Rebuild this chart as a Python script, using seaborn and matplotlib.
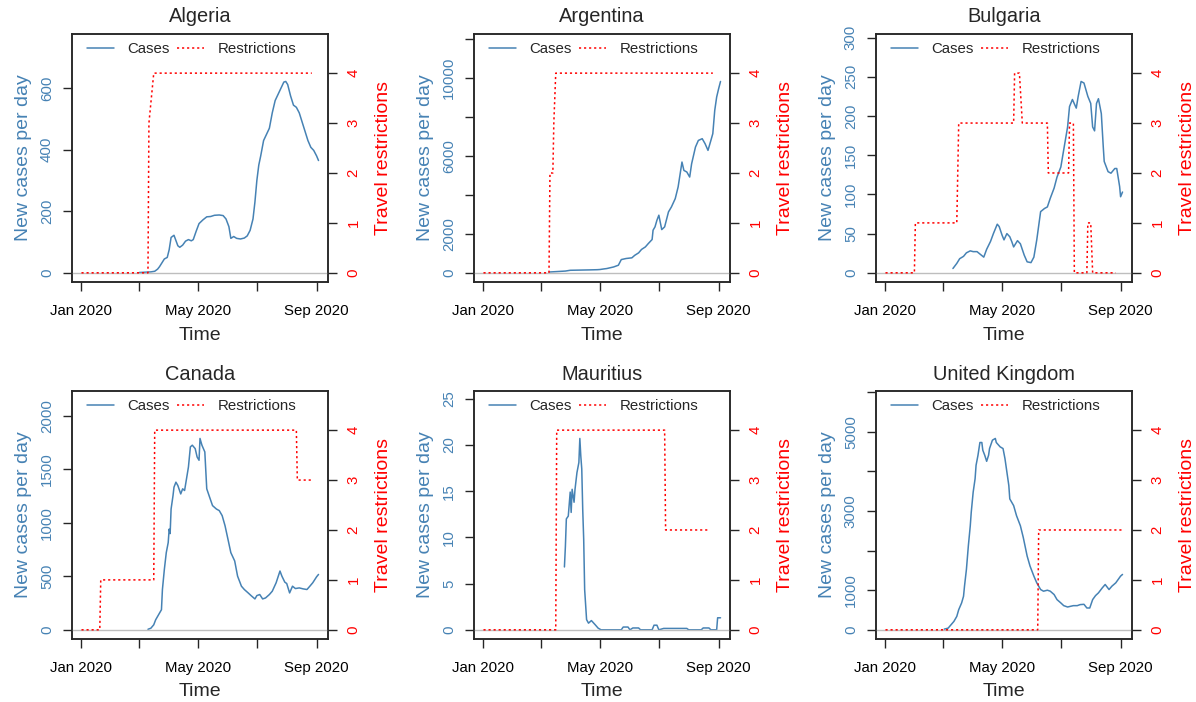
import numpy as np
import pandas as pd
import matplotlib
matplotlib.use("Agg")
import matplotlib.pyplot as plt
import seaborn as sns
from matplotlib.lines import Line2D

sns.set_style("ticks")
plt.rcParams["font.family"] = ["Liberation Sans", "DejaVu Sans"]

# ---------------- data ----------------
countries = ["Algeria", "Argentina", "Bulgaria", "Canada", "Mauritius", "United Kingdom"]

algeria_dates = ["2020-03-01", "2020-03-07", "2020-03-13", "2020-03-17", "2020-03-20", "2020-03-22",
                 "2020-03-25", "2020-03-27", "2020-03-30", "2020-04-01", "2020-04-03", "2020-04-06",
                 "2020-04-08", "2020-04-10", "2020-04-12", "2020-04-15", "2020-04-18", "2020-04-21",
                 "2020-04-24", "2020-04-26", "2020-04-29", "2020-05-02", "2020-05-06", "2020-05-10",
                 "2020-05-14", "2020-05-18", "2020-05-23", "2020-05-27", "2020-05-30", "2020-06-02",
                 "2020-06-04", "2020-06-07", "2020-06-10", "2020-06-14", "2020-06-18", "2020-06-21",
                 "2020-06-24", "2020-06-27", "2020-06-29", "2020-07-01", "2020-07-03", "2020-07-05",
                 "2020-07-08", "2020-07-11", "2020-07-14", "2020-07-17", "2020-07-20", "2020-07-23",
                 "2020-07-26", "2020-07-29", "2020-07-31", "2020-08-02", "2020-08-05", "2020-08-08",
                 "2020-08-11", "2020-08-14", "2020-08-17", "2020-08-20", "2020-08-23", "2020-08-26",
                 "2020-08-29", "2020-09-01", "2020-09-03"]
algeria_cases = [1, 2, 3, 5, 12, 20, 35, 45, 50, 75, 115, 122, 105, 88, 83, 90, 103, 108, 104, 108,
                 135, 160, 172, 182, 183, 187, 188, 186, 175, 150, 112, 118, 112, 110, 113, 120,
                 138, 175, 230, 300, 350, 380, 430, 450, 470, 520, 560, 580, 600, 620, 622, 612,
                 575, 545, 538, 520, 490, 460, 430, 408, 398, 380, 365]
algeria_restr_dates = ["2020-01-01", "2020-03-10", "2020-03-11", "2020-03-16", "2020-08-27"]
algeria_restr_levels = [0, 0, 3, 4, 4]

argentina_dates = ["2020-03-09", "2020-03-16", "2020-03-26", "2020-03-31", "2020-04-10", "2020-04-20",
                   "2020-04-28", "2020-05-01", "2020-05-05", "2020-05-08", "2020-05-15", "2020-05-20",
                   "2020-05-23", "2020-05-28", "2020-06-03", "2020-06-06", "2020-06-10", "2020-06-13",
                   "2020-06-17", "2020-06-20", "2020-06-24", "2020-06-25", "2020-06-27", "2020-06-29",
                   "2020-07-01", "2020-07-04", "2020-07-07", "2020-07-11", "2020-07-14", "2020-07-18",
                   "2020-07-21", "2020-07-25", "2020-07-27", "2020-07-30", "2020-08-02", "2020-08-04",
                   "2020-08-08", "2020-08-11", "2020-08-15", "2020-08-18", "2020-08-21", "2020-08-24",
                   "2020-08-26", "2020-08-28", "2020-08-30", "2020-09-01", "2020-09-03"]
argentina_cases = [40, 60, 90, 130, 140, 150, 160, 170, 200, 220, 300, 390, 680, 735, 770, 900,
                   1025, 1200, 1330, 1500, 1710, 2190, 2360, 2700, 2960, 2220, 2360, 3130, 3380,
                   3810, 4410, 5690, 5260, 5180, 4920, 5600, 6460, 6800, 6890, 6630, 6290, 6800,
                   7150, 8340, 9030, 9450, 9830]
argentina_restr_dates = ["2020-01-01", "2020-03-09", "2020-03-10", "2020-03-13", "2020-03-14",
                         "2020-03-16", "2020-08-26"]
argentina_restr_levels = [0, 0, 2, 2, 3, 4, 4]

bulgaria_dates = ["2020-03-11", "2020-03-15", "2020-03-18", "2020-03-22", "2020-03-25", "2020-03-29",
                  "2020-04-01", "2020-04-05", "2020-04-08", "2020-04-12", "2020-04-15", "2020-04-19",
                  "2020-04-22", "2020-04-26", "2020-04-28", "2020-05-01", "2020-05-03", "2020-05-06",
                  "2020-05-09", "2020-05-11", "2020-05-13", "2020-05-17", "2020-05-20", "2020-05-24",
                  "2020-05-27", "2020-05-31", "2020-06-03", "2020-06-06", "2020-06-10", "2020-06-14",
                  "2020-06-17", "2020-06-20", "2020-06-24", "2020-06-27", "2020-07-01", "2020-07-04",
                  "2020-07-08", "2020-07-10", "2020-07-13", "2020-07-17", "2020-07-19", "2020-07-22",
                  "2020-07-25", "2020-07-29", "2020-08-01", "2020-08-03", "2020-08-05", "2020-08-07",
                  "2020-08-09", "2020-08-12", "2020-08-14", "2020-08-15", "2020-08-19", "2020-08-22",
                  "2020-08-26", "2020-08-28", "2020-08-31", "2020-09-01", "2020-09-03"]
bulgaria_cases = [5.5, 12, 18, 21, 25.5, 28, 27, 27, 24, 20, 30, 40, 50, 62, 59, 48, 42, 50, 46,
                  40, 33, 41, 37, 22.5, 14, 13, 20, 42, 78, 82, 84, 95, 108, 122, 135, 157, 186,
                  212, 221, 210, 225, 244, 242, 225, 216, 186, 181, 216, 222, 203, 161, 142, 129,
                  127, 133, 133, 110, 97, 103]
bulgaria_restr_dates = ["2020-01-01", "2020-01-31", "2020-02-01", "2020-03-15", "2020-03-17",
                        "2020-05-13", "2020-05-14", "2020-05-19", "2020-05-22", "2020-06-17",
                        "2020-06-18", "2020-07-09", "2020-07-10", "2020-07-14", "2020-07-15",
                        "2020-07-28", "2020-07-29", "2020-08-01", "2020-08-03", "2020-08-27"]
bulgaria_restr_levels = [0, 0, 1, 1, 3, 3, 4, 4, 3, 3, 2, 2, 3, 3, 0, 0, 1, 1, 0, 0]

canada_dates = ["2020-03-10", "2020-03-13", "2020-03-16", "2020-03-18", "2020-03-21", "2020-03-24",
                "2020-03-25", "2020-03-27", "2020-03-29", "2020-03-31", "2020-04-01", "2020-04-02",
                "2020-04-03", "2020-04-05", "2020-04-06", "2020-04-08", "2020-04-10", "2020-04-13",
                "2020-04-15", "2020-04-17", "2020-04-19", "2020-04-21", "2020-04-23", "2020-04-25",
                "2020-04-28", "2020-04-30", "2020-05-02", "2020-05-03", "2020-05-05", "2020-05-08",
                "2020-05-10", "2020-05-13", "2020-05-16", "2020-05-20", "2020-05-23", "2020-05-26",
                "2020-05-29", "2020-06-01", "2020-06-04", "2020-06-08", "2020-06-11", "2020-06-15",
                "2020-06-18", "2020-06-22", "2020-06-25", "2020-06-29", "2020-07-01", "2020-07-04",
                "2020-07-07", "2020-07-10", "2020-07-14", "2020-07-17", "2020-07-21", "2020-07-25",
                "2020-07-27", "2020-07-30", "2020-08-01", "2020-08-04", "2020-08-07", "2020-08-10",
                "2020-08-14", "2020-08-18", "2020-08-22", "2020-08-25", "2020-08-28", "2020-09-01",
                "2020-09-03"]
canada_cases = [5, 15, 47, 94, 141, 188, 377, 565, 722, 816, 942, 900, 1130, 1256, 1334, 1381,
                1350, 1271, 1319, 1303, 1413, 1523, 1711, 1727, 1695, 1617, 1586, 1790, 1727,
                1664, 1319, 1240, 1162, 1130, 1115, 1068, 973, 848, 722, 644, 502, 408, 377, 345,
                320, 289, 320, 330, 289, 298, 330, 361, 440, 550, 502, 446, 433, 345, 408, 386,
                392, 383, 377, 408, 440, 496, 518]
canada_restr_dates = ["2020-01-01", "2020-01-20", "2020-01-21", "2020-03-16", "2020-03-17",
                      "2020-08-11", "2020-08-12", "2020-08-26"]
canada_restr_levels = [0, 0, 1, 1, 4, 4, 3, 3]

mauritius_dates = ["2020-03-25", "2020-03-26", "2020-03-27", "2020-03-29", "2020-03-30", "2020-03-31",
                   "2020-04-01", "2020-04-02", "2020-04-04", "2020-04-05", "2020-04-07", "2020-04-09",
                   "2020-04-10", "2020-04-11", "2020-04-12", "2020-04-13", "2020-04-14", "2020-04-15",
                   "2020-04-17", "2020-04-19", "2020-04-22", "2020-04-26", "2020-04-29", "2020-05-02",
                   "2020-05-23", "2020-05-25", "2020-05-30", "2020-06-01", "2020-06-04", "2020-06-10",
                   "2020-06-12", "2020-06-24", "2020-06-26", "2020-06-29", "2020-07-01", "2020-07-06",
                   "2020-07-30", "2020-08-01", "2020-08-14", "2020-08-16", "2020-08-22", "2020-08-24",
                   "2020-08-30", "2020-08-31", "2020-09-03"]
mauritius_cases = [6.8, 9, 12, 12.3, 13.6, 14.9, 12.7, 15.2, 13.8, 15.2, 17, 18.1, 20.7, 18.8,
                   17.4, 13, 9.8, 4.35, 1.1, 0.72, 1.0, 0.54, 0.18, 0, 0, 0.3, 0.3, 0, 0.2, 0.2,
                   0, 0, 0.5, 0.5, 0, 0.15, 0.15, 0, 0, 0.2, 0.2, 0, 0, 1.3, 1.3]
mauritius_restr_dates = ["2020-01-01", "2020-03-16", "2020-03-17", "2020-07-07", "2020-07-08",
                         "2020-08-22"]
mauritius_restr_levels = [0, 0, 4, 4, 2, 2]

uk_dates = ["2020-03-02", "2020-03-06", "2020-03-09", "2020-03-12", "2020-03-15", "2020-03-17",
            "2020-03-20", "2020-03-22", "2020-03-23", "2020-03-25", "2020-03-27", "2020-03-29",
            "2020-03-30", "2020-04-01", "2020-04-03", "2020-04-04", "2020-04-06", "2020-04-08",
            "2020-04-10", "2020-04-11", "2020-04-13", "2020-04-15", "2020-04-17", "2020-04-18",
            "2020-04-21", "2020-04-24", "2020-04-25", "2020-04-29", "2020-05-02", "2020-05-04",
            "2020-05-06", "2020-05-08", "2020-05-09", "2020-05-13", "2020-05-16", "2020-05-20",
            "2020-05-23", "2020-05-27", "2020-05-30", "2020-06-03", "2020-06-06", "2020-06-10",
            "2020-06-13", "2020-06-17", "2020-06-20", "2020-06-24", "2020-06-27", "2020-07-01",
            "2020-07-04", "2020-07-08", "2020-07-11", "2020-07-14", "2020-07-18", "2020-07-21",
            "2020-07-25", "2020-07-28", "2020-07-31", "2020-08-03", "2020-08-06", "2020-08-09",
            "2020-08-13", "2020-08-16", "2020-08-20", "2020-08-23", "2020-08-27", "2020-08-30",
            "2020-09-01", "2020-09-03"]
uk_cases = [17, 42, 127, 212, 339, 508, 678, 847, 1100, 1525, 2119, 2627, 2966, 3475, 3814, 4153,
            4407, 4729, 4729, 4534, 4407, 4254, 4407, 4576, 4788, 4831, 4729, 4619, 4576, 4322,
            3983, 3644, 3305, 3136, 2881, 2627, 2331, 1864, 1610, 1356, 1186, 1017, 975, 1000,
            975, 890, 763, 678, 610, 576, 593, 610, 610, 636, 644, 551, 551, 763, 864, 932,
            1059, 1144, 1017, 1102, 1186, 1288, 1356, 1398]
uk_restr_dates = ["2020-01-01", "2020-06-07", "2020-06-08", "2020-09-03"]
uk_restr_levels = [0, 0, 2, 2]

# left-axis ticks and the labels that are printed
case_ticks = {
    "Algeria": ([0, 200, 400, 600], ["0", "200", "400", "600"]),
    "Argentina": ([0, 2000, 4000, 6000, 8000, 10000, 12000], ["0", "2000", "", "6000", "", "10000", ""]),
    "Bulgaria": ([0, 50, 100, 150, 200, 250, 300], ["0", "50", "100", "150", "200", "250", "300"]),
    "Canada": ([0, 500, 1000, 1500, 2000], ["0", "500", "1000", "1500", "2000"]),
    "Mauritius": ([0, 5, 10, 15, 20, 25], ["0", "5", "10", "15", "20", "25"]),
    "United Kingdom": ([0, 1000, 2000, 3000, 4000, 5000, 6000],
                       ["0", "1000", "", "3000", "", "5000", ""]),
}
restr_ticks = [0, 1, 2, 3, 4]
month_ticks = ["2020-01-01", "2020-03-01", "2020-05-01", "2020-07-01", "2020-09-01"]
month_labels = ["Jan 2020", "", "May 2020", "", "Sep 2020"]

series = {
    "Algeria": (algeria_dates, algeria_cases, algeria_restr_dates, algeria_restr_levels),
    "Argentina": (argentina_dates, argentina_cases, argentina_restr_dates, argentina_restr_levels),
    "Bulgaria": (bulgaria_dates, bulgaria_cases, bulgaria_restr_dates, bulgaria_restr_levels),
    "Canada": (canada_dates, canada_cases, canada_restr_dates, canada_restr_levels),
    "Mauritius": (mauritius_dates, mauritius_cases, mauritius_restr_dates, mauritius_restr_levels),
    "United Kingdom": (uk_dates, uk_cases, uk_restr_dates, uk_restr_levels),
}

# ---------------- styling ----------------
BLUE = "#4682B4"
RED = "#FF0000"
GREY = "#BEBEBE"
EDGE = "#262626"
TICK_FS = 10.8
LAB_FS = 14
DOT = (0, (1.4, 1.9))

W, H = 1196, 702
BOX_W, BOX_H = 256, 248
col_left = [72, 474, 876]
row_top = [34, 391]

fig = plt.figure(figsize=(W / 100, H / 100), dpi=100)

x_start = pd.Timestamp("2020-01-01")
x_end = pd.Timestamp("2020-09-03")
span = x_end - x_start
xlim = (x_start - 0.04 * span, x_end + 0.04 * span)
restr_top = 4.6

for i, name in enumerate(countries):
    c_dates, c_vals, r_dates, r_vals = series[name]
    left = col_left[i % 3]
    top = row_top[i // 3]
    ax = fig.add_axes([left / W, 1 - (top + BOX_H) / H, BOX_W / W, BOX_H / H])

    cases_df = pd.DataFrame({"date": pd.to_datetime(c_dates), "cases": c_vals})
    restr_df = pd.DataFrame({"date": pd.to_datetime(r_dates), "level": r_vals})

    sns.lineplot(data=cases_df, x="date", y="cases", ax=ax, color=BLUE, lw=1.1,
                 estimator=None, errorbar=None, legend=False, zorder=2)
    ax.axhline(0, color=GREY, lw=1.0, zorder=3)

    ymax = 1.2 * max(c_vals)
    ax.set_ylim(-0.04 * ymax, 1.04 * ymax)
    ax.set_xlim(*xlim)

    ax2 = ax.twinx()
    sns.lineplot(data=restr_df, x="date", y="level", ax=ax2, color=RED, lw=1.1,
                 linestyle=DOT, estimator=None, errorbar=None, legend=False)
    ax2.set_ylim(-0.04 * restr_top, 1.04 * restr_top)
    ax2.set_xlim(*xlim)

    # left axis: cases
    ticks, labels = case_ticks[name]
    ax.set_yticks(ticks)
    ax.set_yticklabels(labels)
    ax.tick_params(axis="y", colors=EDGE, labelcolor=BLUE, labelsize=TICK_FS,
                   length=6.5, width=1.0, pad=6.5, labelrotation=90, direction="out")
    for lab in ax.get_yticklabels():
        lab.set_va("center")
    ax.set_ylabel("New cases per day", color=BLUE, fontsize=LAB_FS, va="center")
    ax.yaxis.set_label_coords(-48 / BOX_W, 0.5)

    # right axis: restrictions
    ax2.set_yticks(restr_ticks)
    ax2.set_yticklabels([str(t) for t in restr_ticks])
    ax2.tick_params(axis="y", colors=EDGE, labelcolor=RED, labelsize=TICK_FS,
                    length=6.5, width=1.0, pad=7.0, labelrotation=90, direction="out")
    for lab in ax2.get_yticklabels():
        lab.set_va("center")
    ax2.set_ylabel("Travel restrictions", color=RED, fontsize=LAB_FS, va="center", rotation=90)
    ax2.yaxis.set_label_coords(1 + 55 / BOX_W, 0.5)

    # time axis
    ax.set_xticks(pd.to_datetime(month_ticks))
    ax.set_xticklabels(month_labels)
    ax.tick_params(axis="x", colors=EDGE, labelcolor="black", labelsize=TICK_FS,
                   length=6.5, width=1.0, pad=9.5, direction="out")
    ax.set_xlabel("Time", fontsize=LAB_FS, va="center")
    ax.xaxis.set_label_coords(0.5, -53 / BOX_H)

    for a in (ax, ax2):
        for sp in a.spines.values():
            sp.set_visible(True)
            sp.set_color(EDGE)
            sp.set_linewidth(1.1)

    ax.text(0.5, 1 + 17 / BOX_H, name, transform=ax.transAxes, fontsize=14.4,
            ha="center", va="center")

    handles = [Line2D([], [], color=BLUE, lw=1.1),
               Line2D([], [], color=RED, lw=1.1, linestyle=DOT)]
    ax2.legend(handles, ["Cases", "Restrictions"], ncol=2, frameon=False,
               loc="center", bbox_to_anchor=(0.467, 1 - 15 / BOX_H),
               fontsize=TICK_FS, handlelength=1.8, handletextpad=0.9,
               columnspacing=0.5, borderpad=0, borderaxespad=0)

fig.savefig("out.png", dpi=100, facecolor="white")
